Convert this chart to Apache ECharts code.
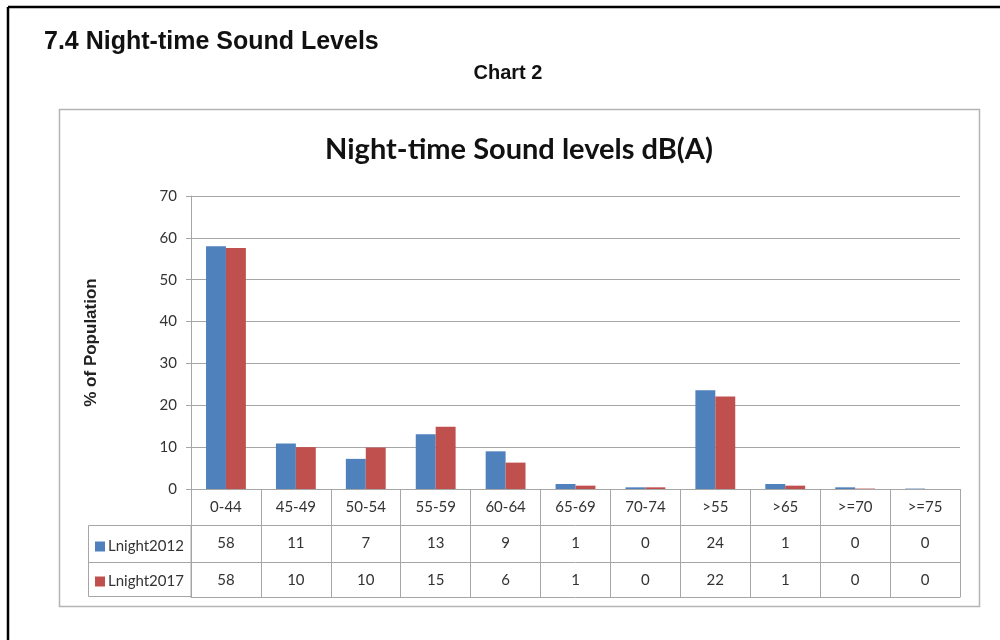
<!DOCTYPE html>
<html>
<head>
<meta charset="utf-8">
<script src="https://cdn.jsdelivr.net/npm/echarts@6/dist/echarts.min.js"></script>
<style>
  html, body { margin: 0; padding: 0; background: #ffffff; }
  #chart { width: 1000px; height: 640px; }
</style>
</head>
<body>
<div id="chart"></div>
<script>
// ---- data ----
var categories = ['0-44', '45-49', '50-54', '55-59', '60-64', '65-69', '70-74', '>55', '>65', '>=70', '>=75'];
var seriesNames = ['Lnight2012', 'Lnight2017'];
var lnight2012 = [58.0, 10.9, 7.2, 13.1, 9.0, 1.2, 0.4, 23.6, 1.2, 0.4, 0.1];
var lnight2017 = [57.6, 10.0, 9.9, 14.9, 6.3, 0.8, 0.4, 22.1, 0.8, 0.1, 0.0];
var yTicks = [0, 10, 20, 30, 40, 50, 60, 70];

var table2012 = lnight2012.map(function (v) { return String(Math.round(v)); });
var table2017 = lnight2017.map(function (v) { return String(Math.round(v)); });

var gridColor = '#a6a6a6';
var txtColor = '#333333';

var chart = echarts.init(document.getElementById('chart'));

function tableAxis(offset, labels) {
  return {
    type: 'category',
    data: categories,
    gridIndex: 0,
    position: 'bottom',
    offset: offset,
    axisLine: { show: true, lineStyle: { color: gridColor, width: 1 } },
    axisTick: { show: false },
    axisLabel: labels ? {
      show: true, interval: 0, margin: 11,
      fontFamily: 'Lato', fontSize: 15, color: txtColor,
      formatter: function (v, i) { return labels[i]; }
    } : { show: false },
    splitLine: { show: false }
  };
}

var option = {
  backgroundColor: '#ffffff',
  animation: false,
  title: [
    { text: '7.4 Night-time Sound Levels', left: 39, top: 25,
      textStyle: { fontFamily: 'Liberation Sans', fontWeight: 'bold', fontSize: 25, color: '#111' } },
    { text: 'Chart 2', left: 503, textAlign: 'center', top: 58,
      textStyle: { fontFamily: 'Liberation Sans', fontWeight: 'bold', fontSize: 20, color: '#111' } },
    { text: 'Night-time Sound levels dB(A)', left: 514, textAlign: 'center', top: 130,
      textStyle: { fontFamily: 'Lato', fontWeight: 'bold', fontSize: 29, color: '#111' } }
  ],
  legend: {
    orient: 'vertical',
    left: 90, top: 534,
    itemWidth: 10, itemHeight: 10, itemGap: 20,
    icon: 'rect',
    data: seriesNames,
    textStyle: { fontFamily: 'Lato', fontSize: 15, color: txtColor, padding: [0, 0, 0, -2] }
  },
  grid: { left: 191, right: 40, top: 196, bottom: 151, containLabel: false },
  xAxis: [
    {
      type: 'category',
      data: categories,
      position: 'bottom',
      axisLine: { show: true, lineStyle: { color: gridColor, width: 1 } },
      axisTick: { show: true, length: 108, interval: 0, lineStyle: { color: gridColor, width: 1 } },
      axisLabel: { show: true, interval: 0, margin: 11, fontFamily: 'Lato', fontSize: 15, color: txtColor },
      splitLine: { show: false }
    },
    tableAxis(36, table2012),
    tableAxis(73, table2017),
    tableAxis(108, null)
  ],
  yAxis: {
    type: 'value',
    min: yTicks[0], max: yTicks[yTicks.length - 1], interval: 10,
    name: '% of Population',
    nameLocation: 'middle',
    nameGap: 91,
    nameRotate: 90,
    nameTextStyle: { fontFamily: 'Liberation Sans', fontWeight: 'bold', fontSize: 17, color: '#222' },
    axisLine: { show: true, lineStyle: { color: gridColor, width: 1 } },
    axisTick: { show: true, length: 5, lineStyle: { color: gridColor } },
    axisLabel: { margin: 14, fontFamily: 'Lato', fontSize: 15, color: txtColor },
    splitLine: { show: true, lineStyle: { color: gridColor, width: 1.2 } }
  },
  series: [
    { name: seriesNames[0], type: 'bar', data: lnight2012, barGap: '0%', barCategoryGap: '43%',
      itemStyle: { color: '#4F81BD' } },
    { name: seriesNames[1], type: 'bar', data: lnight2017, barGap: '0%', barCategoryGap: '43%',
      itemStyle: { color: '#C0504D' } }
  ],
  graphic: [
    { type: 'line', shape: { x1: 8, y1: 7, x2: 1000, y2: 7 }, style: { stroke: '#000', lineWidth: 2.5 } },
    { type: 'line', shape: { x1: 8, y1: 7, x2: 8, y2: 640 }, style: { stroke: '#000', lineWidth: 2.5 } },
    { type: 'rect', shape: { x: 59.5, y: 109.5, width: 920, height: 497 },
      style: { fill: 'none', stroke: '#b4b4b4', lineWidth: 1.5 } },
    { type: 'rect', shape: { x: 88.5, y: 525.5, width: 102.5, height: 71 },
      style: { fill: 'none', stroke: gridColor, lineWidth: 1 } },
    { type: 'line', shape: { x1: 88.5, y1: 562.5, x2: 191, y2: 562.5 },
      style: { stroke: gridColor, lineWidth: 1 } }
  ]
};

chart.setOption(option);
</script>
</body>
</html>
